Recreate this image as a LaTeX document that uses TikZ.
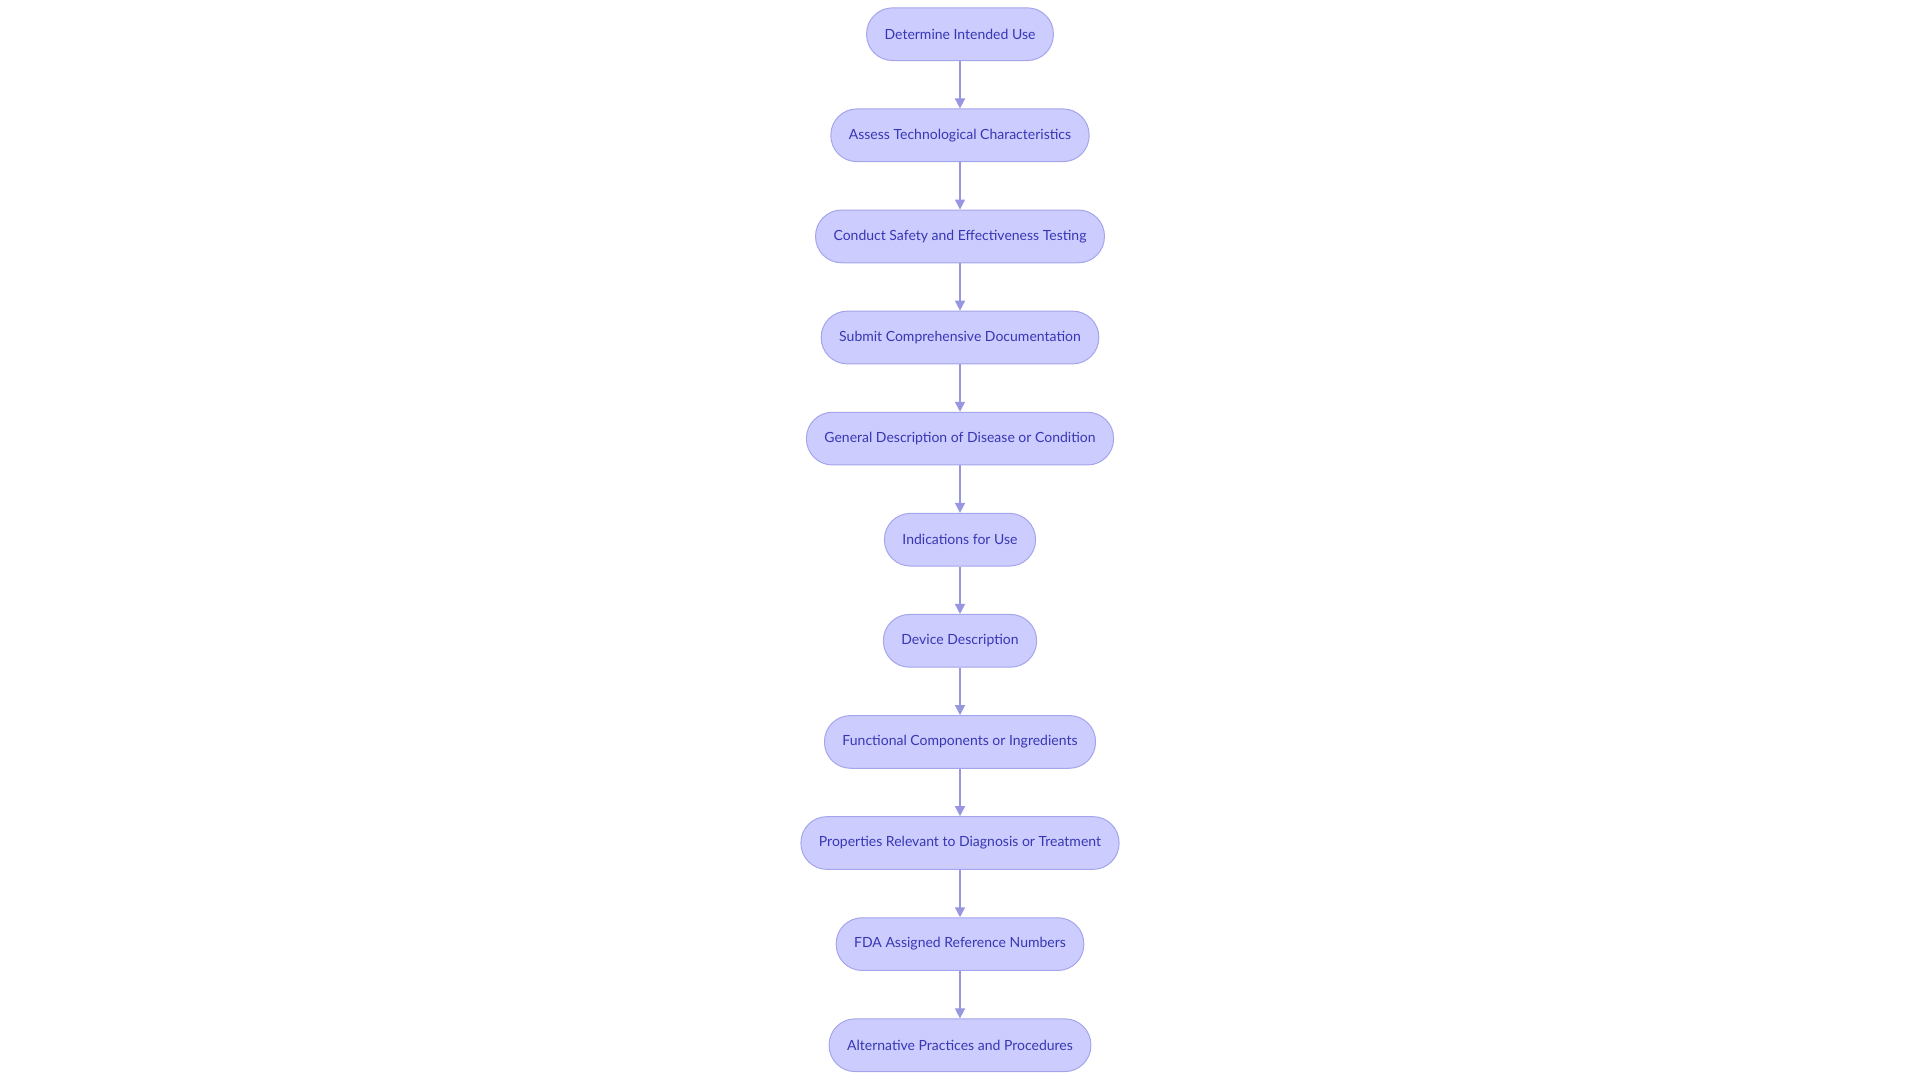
\documentclass[tikz,border=0pt]{standalone}
\usepackage{fontspec}
\setmainfont{Lato}
\usetikzlibrary{arrows.meta}
\definecolor{stepfill}{RGB}{204,204,255}
\definecolor{stepline}{RGB}{165,165,235}
\definecolor{steptext}{RGB}{55,55,180}
\definecolor{flowline}{RGB}{150,150,225}
\tikzset{
	stepbox/.style={draw=stepline, fill=stepfill, text=steptext, line width=1pt,
		rounded corners=26pt, minimum height=52.7pt, inner xsep=18pt,
		font=\fontsize{14}{16}\selectfont},
	flow/.style={draw=flowline, line width=1.6pt, -{Triangle[length=10pt,width=10pt]}}
}
\begin{document}
\begin{tikzpicture}[x=1pt, y=-1pt]
		\useasboundingbox (0,0) rectangle (1920,1080);
		\node[stepbox] (a) at (960,34.2) {Determine Intended Use};
		\node[stepbox] (b) at (960,135.3) {Assess Technological Characteristics};
		\node[stepbox] (c) at (960,236.4) {Conduct Safety and Effectiveness Testing};
		\node[stepbox] (d) at (960,337.5) {Submit Comprehensive Documentation};
		\node[stepbox] (e) at (960,438.6) {General Description of Disease or Condition};
		\node[stepbox] (f) at (960,539.7) {Indications for Use};
		\node[stepbox] (g) at (960,640.8) {Device Description};
		\node[stepbox] (h) at (960,741.9) {Functional Components or Ingredients};
		\node[stepbox] (i) at (960,843.0) {Properties Relevant to Diagnosis or Treatment};
		\node[stepbox] (j) at (960,944.1) {FDA Assigned Reference Numbers};
		\node[stepbox] (k) at (960,1045.2) {Alternative Practices and Procedures};
		\draw[flow] (a) -- (b);
		\draw[flow] (b) -- (c);
		\draw[flow] (c) -- (d);
		\draw[flow] (d) -- (e);
		\draw[flow] (e) -- (f);
		\draw[flow] (f) -- (g);
		\draw[flow] (g) -- (h);
		\draw[flow] (h) -- (i);
		\draw[flow] (i) -- (j);
		\draw[flow] (j) -- (k);
	\end{tikzpicture}
\end{document}
